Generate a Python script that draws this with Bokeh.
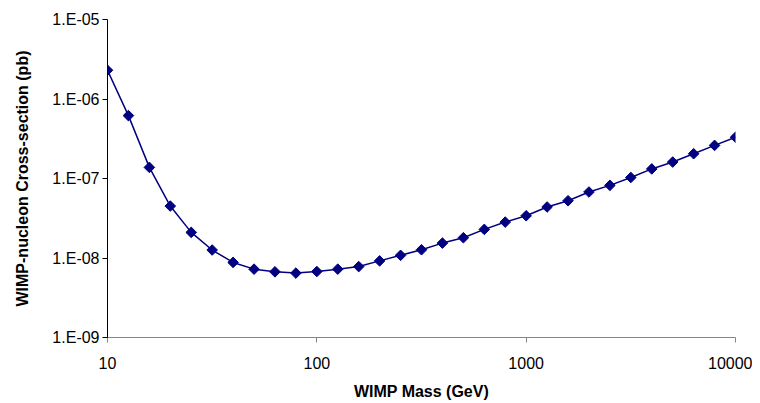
import math
from bokeh.plotting import figure
from bokeh.models import FixedTicker, CustomJSTickFormatter, ColumnDataSource
from bokeh.embed import file_html
from bokeh.resources import INLINE

# WIMP mass (GeV)
mass = [10, 12.59, 15.85, 19.95, 25.12, 31.62, 39.81, 50.12, 63.1, 79.43,
        100, 125.9, 158.5, 199.5, 251.2, 316.2, 398.1, 501.2, 631, 794.3,
        1000, 1259, 1585, 1995, 2512, 3162, 3981, 5012, 6310, 7943, 10000]
# WIMP-nucleon cross-section (pb)
xsec = [2.30e-6, 6.18e-7, 1.38e-7, 4.5e-8, 2.1e-8, 1.26e-8, 8.8e-9, 7.24e-9, 6.7e-9, 6.46e-9,
        6.76e-9, 7.24e-9, 7.8e-9, 9.2e-9, 1.08e-8, 1.27e-8, 1.54e-8, 1.80e-8, 2.29e-8, 2.83e-8,
        3.40e-8, 4.38e-8, 5.25e-8, 6.76e-8, 8.2e-8, 1.03e-7, 1.32e-7, 1.61e-7, 2.05e-7, 2.61e-7, 3.30e-7]

x_ticks = [10, 100, 1000, 10000]
x_tick_labels = ["10", "100", "1000", "10000"]
y_ticks = [1e-9, 1e-8, 1e-7, 1e-6, 1e-5]
y_tick_labels = ["1.E-09", "1.E-08", "1.E-07", "1.E-06", "1.E-05"]

FONT = "Liberation Sans"
NAVY = "#000080"

p = figure(width=752, height=403, x_axis_type="log", y_axis_type="log",
           x_range=(10, 10000), y_range=(1e-9, 1e-5),
           output_backend="svg", toolbar_location=None,
           min_border_left=107, min_border_right=17, min_border_top=19, min_border_bottom=66)
p.outline_line_color = None
p.xgrid.visible = False
p.ygrid.visible = False

src = ColumnDataSource(dict(x=mass, y=xsec))
p.line("x", "y", source=src, line_color=NAVY, line_width=1.5)
p.scatter("x", "y", source=src, marker="square", angle=math.pi / 4, size=7.5,
          fill_color=NAVY, line_color=NAVY)

fmt_code = """
let best = 0, bd = Infinity;
for (let i = 0; i < tvals.length; i++) {
  const d = Math.abs(Math.log10(tvals[i]) - Math.log10(tick));
  if (d < bd) { bd = d; best = i; }
}
return tlabels[best];
"""

xa = p.xaxis[0]
xa.ticker = FixedTicker(ticks=x_ticks, minor_ticks=[])
xa.formatter = CustomJSTickFormatter(args=dict(tvals=x_ticks, tlabels=x_tick_labels), code=fmt_code)
xa.axis_label = "WIMP Mass (GeV)"
xa.axis_line_color = "#868686"
xa.major_tick_line_color = "#868686"
xa.major_tick_in = 0
xa.major_tick_out = 5
xa.minor_tick_line_color = None
xa.major_label_text_font = FONT
xa.major_label_text_font_size = "16px"
xa.major_label_text_color = "#000000"
xa.major_label_standoff = 14
xa.axis_label_text_font = FONT
xa.axis_label_text_font_size = "16px"
xa.axis_label_text_font_style = "bold"
xa.axis_label_text_color = "#000000"
xa.axis_label_standoff = 11

ya = p.yaxis[0]
ya.ticker = FixedTicker(ticks=y_ticks, minor_ticks=[])
ya.formatter = CustomJSTickFormatter(args=dict(tvals=y_ticks, tlabels=y_tick_labels), code=fmt_code)
ya.axis_label = "WIMP-nucleon Cross-section (pb)"
ya.axis_line_color = "#000000"
ya.major_tick_line_color = "#000000"
ya.major_tick_in = 0
ya.major_tick_out = 5
ya.minor_tick_line_color = None
ya.major_label_text_font = FONT
ya.major_label_text_font_size = "16px"
ya.major_label_text_color = "#000000"
ya.major_label_standoff = 3
ya.axis_label_text_font = FONT
ya.axis_label_text_font_size = "16px"
ya.axis_label_text_font_style = "bold"
ya.axis_label_text_color = "#000000"
ya.axis_label_standoff = 18

open("out.html", "w").write(file_html(p, INLINE))
